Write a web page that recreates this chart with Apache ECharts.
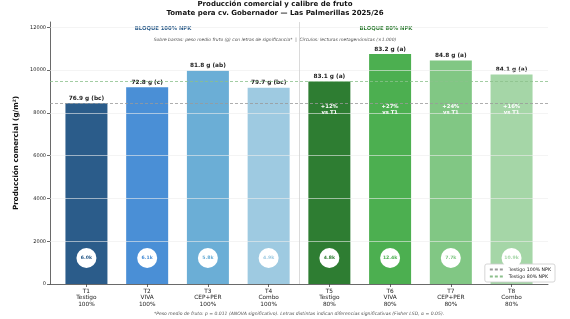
<!DOCTYPE html>
<html>
<head>
<meta charset="utf-8">
<script src="https://cdn.jsdelivr.net/npm/echarts@6/dist/echarts.min.js"></script>
<style>
html, body { margin: 0; padding: 0; background: #fff; }
#chart { width: 570px; height: 319px; }
</style>
</head>
<body>
<div id="chart"></div>
<script>
// datos
var tratamientos = ['T1\nTestigo\n100%', 'T2\nVIVA\n100%', 'T3\nCEP+PER\n100%', 'T4\nCombo\n100%',
                    'T5\nTestigo\n80%', 'T6\nVIVA\n80%', 'T7\nCEP+PER\n80%', 'T8\nCombo\n80%'];
var produccion = [8450, 9200, 9970, 9170, 9470, 10750, 10450, 9790];
var pesoFruto = ['76.9 g (bc)', '72.8 g (c)', '81.8 g (ab)', '79.7 g (bc)',
                 '83.1 g (a)', '83.2 g (a)', '84.8 g (a)', '84.1 g (a)'];
var lecturas = ['6.0k', '6.1k', '5.8k', '4.9k', '4.8k', '12.4k', '7.7k', '10.9k'];
var indices = [0, 1, 2, 3, 4, 5, 6, 7];
var yTicks = [0, 2000, 4000, 6000, 8000, 10000, 12000];

var colores = ['#2b5c8a', '#4a8fd6', '#6baed6', '#9ecae1', '#2e7d32', '#4caf50', '#81c784', '#a5d6a7'];
var FONT = 'DejaVu Sans';

var chart = echarts.init(document.getElementById('chart'));

// barras principales
var barras = indices.map(function (i) {
    return { value: [i, produccion[i]], itemStyle: { color: colores[i] } };
});
// circulos con lecturas metagenomicas
var circulos = indices.map(function (i) {
    return { value: [i, produccion[i]], label: { color: colores[i] } };
});
// % vs T1 solo para el bloque 80%
var pct = indices.filter(function (i) { return i >= 4; }).map(function (i) {
    return { value: [i, produccion[i]] };
});
// lineas de cuadricula horizontales
var cuadricula = yTicks.filter(function (v) { return v > 0; }).map(function (v) {
    return { yAxis: v };
});

var option = {
    animation: false,
    textStyle: { fontFamily: FONT },
    grid: { left: 50, right: 22, top: 22, bottom: 35 },
    legend: {
        data: ['Testigo 100% NPK', 'Testigo 80% NPK'],
        orient: 'vertical',
        right: 15, bottom: 37,
        itemWidth: 14, itemHeight: 6, itemGap: 2,
        padding: [3, 4, 3, 4],
        borderColor: '#ccc', borderWidth: 0.8, borderRadius: 2,
        backgroundColor: '#fff',
        itemStyle: { opacity: 0 },
        textStyle: { fontSize: 4.7, color: '#222', fontFamily: FONT }
    },
    xAxis: {
        type: 'value',
        min: -0.6, max: 7.6,
        splitLine: { show: false },
        axisLine: { lineStyle: { color: '#444', width: 0.8 } },
        axisTick: { show: true, customValues: indices, length: 3, lineStyle: { color: '#444', width: 0.8 } },
        axisLabel: {
            customValues: indices,
            fontSize: 5.8, lineHeight: 6.6, color: '#222', margin: 4,
            formatter: function (v) { return tratamientos[Math.round(v)]; }
        }
    },
    yAxis: {
        type: 'value',
        min: 0, max: 12250,
        name: 'Producción comercial (g/m²)',
        nameLocation: 'middle', nameGap: 23,
        nameTextStyle: { fontSize: 7.2, fontWeight: 'bold', color: '#111', fontFamily: FONT },
        axisLine: { show: true, onZero: false, lineStyle: { color: '#444', width: 0.8 } },
        axisTick: { show: true, customValues: yTicks, length: 3, lineStyle: { color: '#444', width: 0.8 } },
        axisLabel: { customValues: yTicks, fontSize: 5, color: '#222', margin: 4, formatter: function (v) { return String(v); } },
        splitLine: { show: false }
    },
    series: [
        {
            name: 'cuadricula', type: 'line', data: [], z: 0,
            markLine: {
                silent: true, symbol: 'none', label: { show: false },
                lineStyle: { color: '#ececec', type: 'solid', width: 0.6 },
                data: cuadricula
            }
        },
        {
            name: 'Testigo 100% NPK', type: 'line', data: [], z: 1,
            symbol: 'none',
            lineStyle: { color: '#999', type: [3, 2], width: 0.8 },
            itemStyle: { color: '#999' },
            markLine: {
                silent: true, symbol: 'none', label: { show: false },
                lineStyle: { color: '#999', type: [3, 2], width: 0.8 },
                data: [{ yAxis: produccion[0] }]
            }
        },
        {
            name: 'Testigo 80% NPK', type: 'line', data: [], z: 1,
            symbol: 'none',
            lineStyle: { color: '#8cc08c', type: [3, 2], width: 0.8 },
            itemStyle: { color: '#8cc08c' },
            markLine: {
                silent: true, symbol: 'none', label: { show: false },
                lineStyle: { color: '#8cc08c', type: [3, 2], width: 0.8 },
                data: [{ yAxis: produccion[4] }]
            }
        },
        {
            name: 'separador', type: 'line', data: [], z: 1,
            markLine: {
                silent: true, symbol: 'none', label: { show: false },
                lineStyle: { color: '#d0d0d0', type: 'solid', width: 0.8 },
                data: [{ xAxis: 3.5 }]
            }
        },
        {
            name: 'produccion', type: 'bar', z: 3,
            barWidth: 42, barGap: '-100%',
            data: barras,
            label: {
                show: true, position: 'top', distance: 2,
                fontSize: 5.8, fontWeight: 'bold', color: '#222',
                formatter: function (p) { return pesoFruto[p.value[0]]; }
            }
        },
        {
            name: 'lecturas', type: 'bar', z: 4, silent: true,
            barWidth: 42, barGap: '-100%',
            data: circulos,
            itemStyle: { color: 'rgba(0,0,0,0)' },
            label: {
                show: true, position: 'insideBottom', distance: 16,
                formatter: function (p) { return '{c|' + lecturas[p.value[0]] + '}'; },
                rich: {
                    c: {
                        backgroundColor: '#fff', borderRadius: 10,
                        width: 20, height: 20, lineHeight: 20, align: 'center',
                        fontSize: 4.6, fontWeight: 'bold'
                    }
                }
            }
        },
        {
            name: 'pct', type: 'bar', z: 4, silent: true,
            barWidth: 42, barGap: '-100%',
            data: pct,
            itemStyle: { color: 'rgba(0,0,0,0)' },
            label: {
                show: true, position: 'insideBottom', distance: 168,
                fontSize: 5.3, fontWeight: 'bold', color: '#fff', lineHeight: 6.5,
                formatter: function (p) {
                    var d = Math.round((produccion[p.value[0]] / produccion[0] - 1) * 100);
                    return '+' + d + '%\nvs T1';
                }
            }
        }
    ],
    graphic: [
        { type: 'text', x: 275, y: 4,
          style: { text: 'Producción comercial y calibre de fruto', font: 'bold 7px "DejaVu Sans"', fill: '#111', align: 'center', verticalAlign: 'middle' } },
        { type: 'text', x: 275, y: 13,
          style: { text: 'Tomate pera cv. Gobernador — Las Palmerillas 2025/26', font: 'bold 7px "DejaVu Sans"', fill: '#111', align: 'center', verticalAlign: 'middle' } },
        { type: 'text', x: 163, y: 29,
          style: { text: 'BLOQUE 100% NPK', font: 'bold 5.3px "DejaVu Sans"', fill: '#2b5c8a', align: 'center', verticalAlign: 'middle' } },
        { type: 'text', x: 386, y: 29,
          style: { text: 'BLOQUE 80% NPK', font: 'bold 5.3px "DejaVu Sans"', fill: '#2e7d32', align: 'center', verticalAlign: 'middle' } },
        { type: 'text', x: 275, y: 40,
          style: { text: 'Sobre barras: peso medio fruto (g) con letras de significancia*  |  Círculos: lecturas metagenómicas (×1.000)',
                   font: 'italic 4.45px "DejaVu Sans"', fill: '#555', align: 'center', verticalAlign: 'middle' } },
        { type: 'text', x: 299, y: 314,
          style: { text: '*Peso medio de fruto: p = 0.011 (ANOVA significativo). Letras distintas indican diferencias significativas (Fisher LSD, α = 0.05).',
                   font: 'italic 4.55px "DejaVu Sans"', fill: '#555', align: 'center', verticalAlign: 'middle' } }
    ]
};

chart.setOption(option);
</script>
</body>
</html>
